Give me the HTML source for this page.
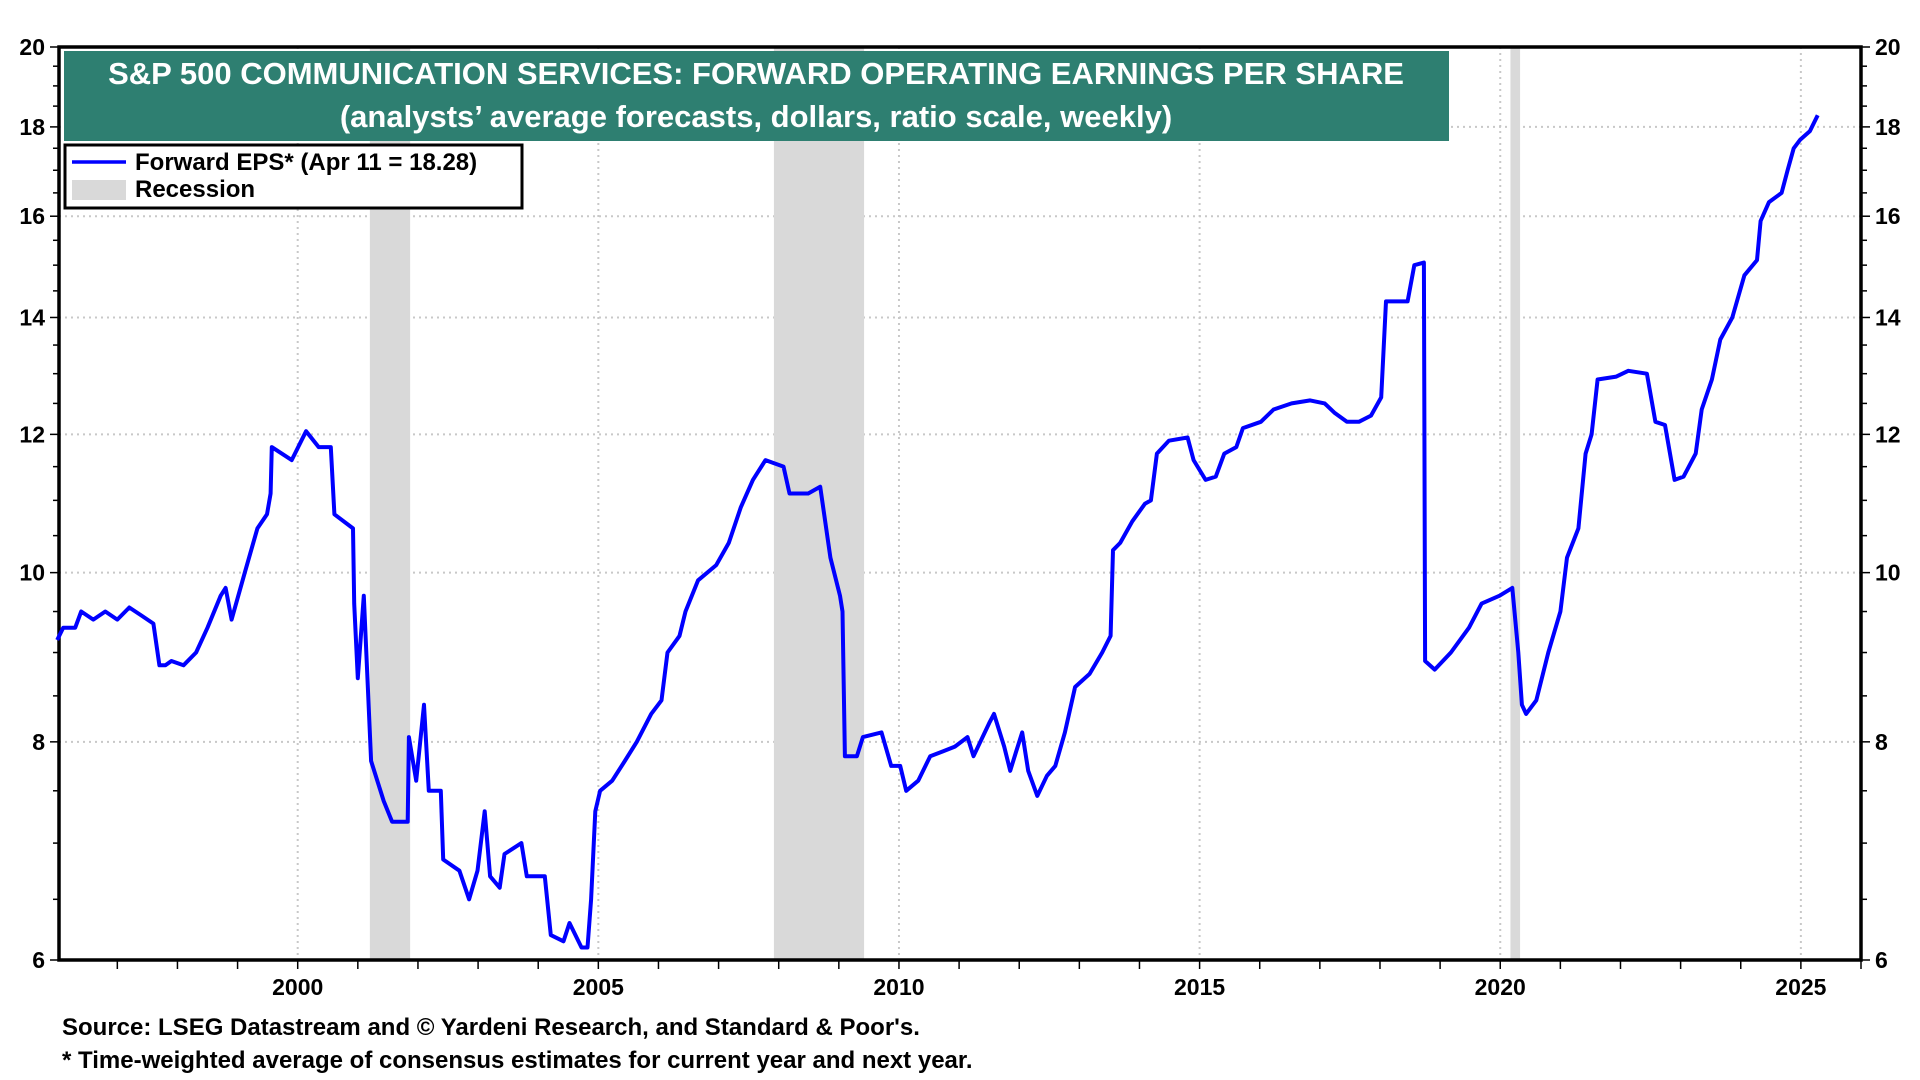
<!DOCTYPE html>
<html><head><meta charset="utf-8"><style>
body{margin:0;background:#fff;}
svg{display:block;font-family:"Liberation Sans",Arial,sans-serif;}
</style></head><body>
<svg id="chart" width="1920" height="1080" viewBox="0 0 1920 1080">
<g id="grid"></g>
<g id="rec"></g>
<g id="axes"></g>
<path id="line" fill="none" stroke="#0000ff" stroke-width="4" stroke-linejoin="round"></path>
<rect x="64" y="51" width="1385" height="90" fill="#2e7f71"/>
<text x="756" y="84" text-anchor="middle" fill="#fff" font-weight="bold" font-size="31">S&amp;P 500 COMMUNICATION SERVICES: FORWARD OPERATING EARNINGS PER SHARE</text>
<text x="756" y="127" text-anchor="middle" fill="#fff" font-weight="bold" font-size="31">(analysts’ average forecasts, dollars, ratio scale, weekly)</text>
<g>
<rect x="65" y="145" width="457" height="63" fill="#fff" stroke="#000" stroke-width="3"/>
<line x1="72" y1="162" x2="126" y2="162" stroke="#0000ff" stroke-width="3.5"/>
<text x="135" y="170" font-size="24" font-weight="bold">Forward EPS* (Apr 11 = 18.28)</text>
<rect x="72" y="180" width="54" height="20" fill="#d9d9d9"/>
<text x="135" y="197" font-size="24" font-weight="bold">Recession</text>
</g>
<text x="62" y="1035" font-size="24" font-weight="bold">Source: LSEG Datastream and © Yardeni Research, and Standard &amp; Poor's.</text>
<text x="62" y="1068" font-size="24" font-weight="bold">* Time-weighted average of consensus estimates for current year and next year.</text>
</svg>
<script>
const dates=[1996.0,1996.1,1996.3,1996.4,1996.6,1996.8,1997.0,1997.2,1997.4,1997.6,1997.7,1997.8,1997.9,1998.1,1998.31,1998.5,1998.72,1998.8,1998.9,1999.12,1999.33,1999.49,1999.55,1999.57,1999.9,2000.14,2000.35,2000.55,2000.61,2000.92,2000.94,2001.0,2001.1,2001.22,2001.43,2001.57,2001.83,2001.85,2001.97,2002.1,2002.18,2002.38,2002.42,2002.69,2002.85,2002.99,2003.11,2003.2,2003.36,2003.44,2003.72,2003.81,2004.11,2004.21,2004.42,2004.52,2004.72,2004.82,2004.88,2004.95,2005.03,2005.23,2005.44,2005.64,2005.88,2006.05,2006.15,2006.35,2006.45,2006.66,2006.96,2007.17,2007.37,2007.57,2007.78,2008.08,2008.18,2008.49,2008.69,2008.86,2009.02,2009.06,2009.1,2009.3,2009.4,2009.71,2009.87,2010.02,2010.12,2010.32,2010.52,2010.73,2010.93,2011.14,2011.24,2011.5,2011.58,2011.75,2011.85,2011.95,2012.05,2012.15,2012.3,2012.46,2012.6,2012.76,2012.93,2013.17,2013.38,2013.52,2013.56,2013.68,2013.88,2014.09,2014.19,2014.29,2014.49,2014.8,2014.9,2015.1,2015.27,2015.41,2015.61,2015.72,2016.02,2016.23,2016.53,2016.84,2017.08,2017.24,2017.45,2017.65,2017.85,2018.02,2018.1,2018.46,2018.57,2018.73,2018.75,2018.91,2019.18,2019.48,2019.69,2019.99,2020.2,2020.3,2020.36,2020.43,2020.6,2020.8,2021.0,2021.11,2021.3,2021.42,2021.52,2021.62,2021.93,2022.13,2022.44,2022.58,2022.74,2022.9,2023.05,2023.25,2023.35,2023.52,2023.66,2023.86,2024.06,2024.27,2024.33,2024.47,2024.68,2024.78,2024.88,2024.99,2025.15,2025.28];
const values=[9.15,9.3,9.3,9.5,9.4,9.5,9.4,9.55,9.45,9.35,8.85,8.85,8.9,8.85,9.0,9.3,9.7,9.8,9.4,10.0,10.6,10.8,11.1,11.8,11.6,12.05,11.8,11.8,10.8,10.6,9.6,8.7,9.7,7.8,7.4,7.2,7.2,8.05,7.6,8.4,7.5,7.5,6.85,6.75,6.5,6.75,7.3,6.7,6.6,6.9,7.0,6.7,6.7,6.2,6.15,6.3,6.1,6.1,6.5,7.3,7.5,7.6,7.8,8.0,8.3,8.45,9.0,9.2,9.5,9.9,10.1,10.4,10.9,11.3,11.6,11.5,11.1,11.1,11.2,10.2,9.7,9.5,7.85,7.85,8.05,8.1,7.75,7.75,7.5,7.6,7.85,7.9,7.95,8.05,7.85,8.2,8.3,7.95,7.7,7.9,8.1,7.7,7.45,7.65,7.75,8.1,8.6,8.75,9.0,9.2,10.3,10.4,10.7,10.95,11.0,11.7,11.9,11.95,11.6,11.3,11.35,11.7,11.8,12.1,12.2,12.4,12.5,12.55,12.5,12.35,12.2,12.2,12.3,12.6,14.3,14.3,15.0,15.05,8.9,8.8,9.0,9.3,9.6,9.7,9.8,9.0,8.4,8.3,8.45,9.0,9.5,10.2,10.6,11.7,12.0,12.9,12.95,13.05,13.0,12.2,12.15,11.3,11.35,11.7,12.4,12.9,13.6,14.0,14.8,15.1,15.9,16.3,16.5,17.0,17.5,17.7,17.9,18.28];
const recStart=[2001.2,2007.92,2020.17];
const recEnd=[2001.87,2009.42,2020.33];
const yTicks=[6,8,10,12,14,16,18,20];
const xTicks=[2000,2005,2010,2015,2020,2025];

const L=59,R=1861,T=47,B=960,X0=1996.03,X1=2026.0,Y0=6,Y1=20;
const ns="http://www.w3.org/2000/svg";
const sx=v=>L+(v-X0)/(X1-X0)*(R-L);
const sy=v=>B-Math.log(v/Y0)/Math.log(Y1/Y0)*(B-T);
function mk(tag,attrs,parent){const e=document.createElementNS(ns,tag);for(const k in attrs)e.setAttribute(k,attrs[k]);parent.appendChild(e);return e;}
const grid=document.getElementById('grid'),rec=document.getElementById('rec'),axes=document.getElementById('axes');
yTicks.forEach(t=>{if(t>6&&t<20){const g=mk('line',{x1:L,x2:R,y1:sy(t),y2:sy(t),stroke:'#c8c8c8','stroke-width':2,'stroke-dasharray':'2,4'},grid);

}});
xTicks.forEach(t=>{const g=mk('line',{x1:sx(t),x2:sx(t),y1:T,y2:B,stroke:'#c8c8c8','stroke-width':2,'stroke-dasharray':'2,4'},grid);

});
recStart.forEach((s,i)=>{const r=mk('rect',{x:sx(s),y:T,width:sx(recEnd[i])-sx(s),height:B-T,fill:'#d9d9d9'},rec);

});
let d='';dates.forEach((t,i)=>{d+=(i?'L':'M')+sx(t).toFixed(1)+','+sy(values[i]).toFixed(1);});
document.getElementById('line').setAttribute('d',d);
const frame=mk('rect',{x:L,y:T,width:R-L,height:B-T,fill:'none',stroke:'#000','stroke-width':3.5},axes);


for(let v=6;v<=20.01;v+=0.5){const len=(Number.isInteger(v)&&v%2===0)?9:6;
mk('line',{x1:L-len,x2:L,y1:sy(v),y2:sy(v),stroke:'#000','stroke-width':1.5},axes);
mk('line',{x1:R,x2:R+len,y1:sy(v),y2:sy(v),stroke:'#000','stroke-width':1.5},axes);}
yTicks.forEach(t=>{
const a=mk('text',{x:L-14,y:sy(t)+8,'text-anchor':'end','font-size':23,'font-weight':'bold'},axes);a.textContent=t;


const b=mk('text',{x:R+14,y:sy(t)+8,'font-size':23,'font-weight':'bold'},axes);b.textContent=t;

});
for(let y=1997;y<=2026;y++){mk('line',{x1:sx(y),x2:sx(y),y1:B,y2:B+9,stroke:'#000','stroke-width':1.5},axes);}
xTicks.forEach(t=>{const a=mk('text',{x:sx(t),y:B+35,'text-anchor':'middle','font-size':23,'font-weight':'bold'},axes);a.textContent=t;

});
</script>
</body></html>
